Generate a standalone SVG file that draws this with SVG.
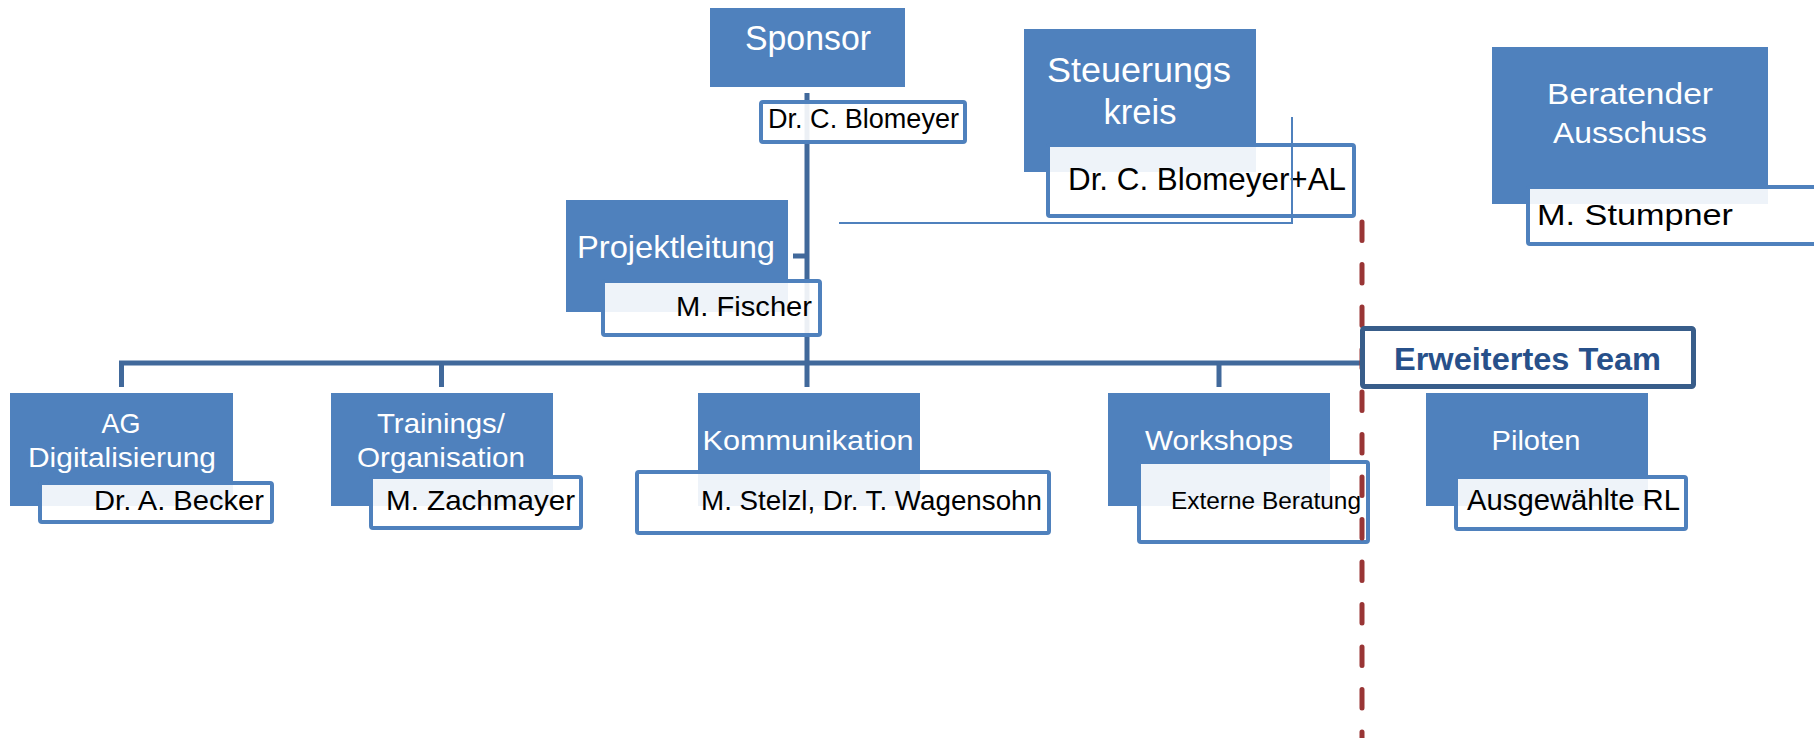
<svg xmlns="http://www.w3.org/2000/svg" width="1814" height="738" viewBox="0 0 1814 738">
<style>
.box{fill:#4F81BD;}
.det{fill:#FFFFFF;fill-opacity:0.9;stroke:#4F81BD;stroke-width:4;}
.t{font-family:"Liberation Sans",Arial,sans-serif;fill:#FFFFFF;}
.d{font-family:"Liberation Sans",Arial,sans-serif;fill:#000000;}
.conn{stroke:#41699B;stroke-width:5;fill:none;}
.thin{stroke:#4F81BD;stroke-width:2;fill:none;}
.dash{stroke:#993535;stroke-width:5;stroke-linecap:round;stroke-dasharray:18.5 24;fill:none;}
</style>
<rect width="1814" height="738" fill="#FFFFFF"/>
<g id="connectors">
<line class="conn" x1="807" y1="93" x2="807" y2="387"/>
<line class="conn" x1="793" y1="256" x2="807" y2="256"/>
<line class="conn" x1="119" y1="363" x2="1362" y2="363"/>
<line class="conn" x1="121.5" y1="361" x2="121.5" y2="387"/>
<line class="conn" x1="441.5" y1="361" x2="441.5" y2="387"/>
<line class="conn" x1="1219" y1="361" x2="1219" y2="387"/>
</g>
<g id="sponsor">
<rect class="box" x="710" y="8" width="195" height="79"/>
<text class="t" x="808" y="50" font-size="35" text-anchor="middle" textLength="126" lengthAdjust="spacingAndGlyphs">Sponsor</text>
<rect class="det" x="761" y="102" width="204" height="40" rx="2"/>
<text class="d" x="768" y="128" font-size="27" textLength="191" lengthAdjust="spacingAndGlyphs">Dr. C. Blomeyer</text>
</g>
<g id="steuerungskreis">
<rect class="box" x="1024" y="29" width="232" height="143"/>
<text class="t" x="1139" y="82" font-size="35" text-anchor="middle" textLength="184" lengthAdjust="spacingAndGlyphs">Steuerungs</text>
<text class="t" x="1140" y="124" font-size="35" text-anchor="middle" textLength="73" lengthAdjust="spacingAndGlyphs">kreis</text>
<rect class="det" x="1048" y="145" width="306" height="71" rx="2"/>
<text class="d" x="1068" y="190" font-size="32" textLength="278" lengthAdjust="spacingAndGlyphs">Dr. C. Blomeyer+AL</text>
</g>
<g id="beratender-ausschuss">
<rect class="box" x="1492" y="47" width="276" height="157"/>
<text class="t" x="1630" y="104" font-size="30" text-anchor="middle" textLength="166" lengthAdjust="spacingAndGlyphs">Beratender</text>
<text class="t" x="1630" y="143" font-size="30" text-anchor="middle" textLength="154" lengthAdjust="spacingAndGlyphs">Ausschuss</text>
<rect class="det" x="1528" y="187" width="300" height="57" rx="2"/>
<text class="d" x="1537" y="225" font-size="29" textLength="196" lengthAdjust="spacingAndGlyphs">M. Stumpner</text>
</g>
<g id="projektleitung">
<rect class="box" x="566" y="200" width="222" height="112"/>
<text class="t" x="676" y="258" font-size="32" text-anchor="middle" textLength="198" lengthAdjust="spacingAndGlyphs">Projektleitung</text>
<rect class="det" x="603" y="281" width="217" height="54" rx="2"/>
<text class="d" x="812" y="316" font-size="27" text-anchor="end" textLength="136" lengthAdjust="spacingAndGlyphs">M. Fischer</text>
</g>
<g id="ag-digitalisierung">
<rect class="box" x="10" y="393" width="223" height="113"/>
<text class="t" x="121" y="433" font-size="28" text-anchor="middle" textLength="39" lengthAdjust="spacingAndGlyphs">AG</text>
<text class="t" x="122" y="467" font-size="28" text-anchor="middle" textLength="188" lengthAdjust="spacingAndGlyphs">Digitalisierung</text>
<rect class="det" x="40" y="483" width="232" height="39" rx="2"/>
<text class="d" x="264" y="510" font-size="28" text-anchor="end" textLength="170" lengthAdjust="spacingAndGlyphs">Dr. A. Becker</text>
</g>
<g id="trainings-organisation">
<rect class="box" x="331" y="393" width="222" height="113"/>
<text class="t" x="441" y="433" font-size="28" text-anchor="middle" textLength="128" lengthAdjust="spacingAndGlyphs">Trainings/</text>
<text class="t" x="441" y="467" font-size="28" text-anchor="middle" textLength="168" lengthAdjust="spacingAndGlyphs">Organisation</text>
<rect class="det" x="371" y="477" width="210" height="51" rx="2"/>
<text class="d" x="386" y="510" font-size="28" textLength="189" lengthAdjust="spacingAndGlyphs">M. Zachmayer</text>
</g>
<g id="kommunikation">
<rect class="box" x="698" y="393" width="222" height="113"/>
<text class="t" x="808" y="450" font-size="28" text-anchor="middle" textLength="211" lengthAdjust="spacingAndGlyphs">Kommunikation</text>
<rect class="det" x="637" y="472" width="412" height="61" rx="2"/>
<text class="d" x="701" y="510" font-size="28" textLength="341" lengthAdjust="spacingAndGlyphs">M. Stelzl, Dr. T. Wagensohn</text>
</g>
<g id="workshops">
<rect class="box" x="1108" y="393" width="222" height="113"/>
<text class="t" x="1219" y="450" font-size="28" text-anchor="middle" textLength="148" lengthAdjust="spacingAndGlyphs">Workshops</text>
<rect class="det" x="1139" y="462" width="229" height="80" rx="2"/>
<text class="d" x="1171" y="509" font-size="24" textLength="190" lengthAdjust="spacingAndGlyphs">Externe Beratung</text>
</g>
<g id="piloten">
<rect class="box" x="1426" y="393" width="222" height="113"/>
<text class="t" x="1536" y="450" font-size="28" text-anchor="middle" textLength="89" lengthAdjust="spacingAndGlyphs">Piloten</text>
<rect class="det" x="1456" y="477" width="230" height="52" rx="2"/>
<text class="d" x="1467" y="510" font-size="29" textLength="213" lengthAdjust="spacingAndGlyphs">Ausgewählte RL</text>
</g>
<g id="overlay-connectors">
<polyline class="thin" points="839,223 1292,223 1292,117"/>
<line class="dash" x1="1362" y1="222" x2="1362" y2="740"/>
</g>
<g id="erweitertes-team">
<rect x="1362.5" y="328.5" width="331" height="58" rx="2" fill="#FFFFFF" stroke="#385D8A" stroke-width="5"/>
<text x="1394" y="370" font-family="'Liberation Sans',Arial,sans-serif" font-weight="bold" font-size="32" fill="#27508A" textLength="267" lengthAdjust="spacingAndGlyphs">Erweitertes Team</text>
</g>
</svg>
